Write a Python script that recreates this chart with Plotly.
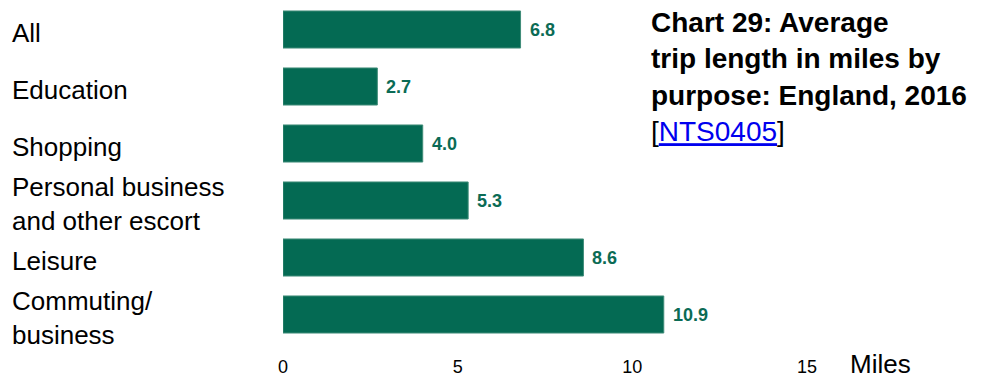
import plotly.graph_objects as go

categories = ["All", "Education", "Shopping", "Personal business<br>and other escort", "Leisure", "Commuting/<br>business"]
values = [6.8, 2.7, 4.0, 5.3, 8.6, 10.9]
value_labels = ["6.8", "2.7", "4.0", "5.3", "8.6", "10.9"]
tick_vals = [0, 5, 10, 15]
tick_text = ["0", "5", "10", "15"]

FONT = "Liberation Sans, Arial, sans-serif"
GREEN = "#046a53"

fig = go.Figure()
fig.add_trace(go.Bar(
    x=values, y=categories, orientation="h",
    marker=dict(color=GREEN, line=dict(color="#3f8c78", width=1)),
    hoverinfo="skip",
))

annotations = []
for c in categories:
    annotations.append(dict(
        x=(10 - 283) / 524, xref="paper", y=c, yref="y", yshift=-3,
        text=c, showarrow=False, xanchor="left", yanchor="middle", align="left",
        font=dict(family=FONT, size=26, color="#000000"),
    ))
for c, v, t in zip(categories, values, value_labels):
    annotations.append(dict(
        x=v, xref="x", y=c, yref="y", text="<b>" + t + "</b>", showarrow=False,
        xanchor="left", yanchor="middle", xshift=7,
        font=dict(family=FONT, size=18, color="#0b6b55"),
    ))
annotations.append(dict(
    x=(848 - 283) / 524, xref="paper", y=(343 - 364) / 342, yref="paper",
    text="Miles", showarrow=False, xanchor="left", yanchor="middle",
    font=dict(family=FONT, size=26, color="#000000"),
))
annotations.append(dict(
    x=(649 - 283) / 524, xref="paper", y=(343 - 5) / 342, yref="paper",
    text="<b>Chart 29: Average<br>trip length in miles by<br>purpose: England, 2016</b><br>"
         "[<span style='color:#0000ee'><u>NTS0405</u></span>]",
    showarrow=False, xanchor="left", yanchor="top", align="left",
    font=dict(family=FONT, size=28, color="#000000"),
))

fig.update_layout(
    width=982, height=376,
    margin=dict(l=283, r=175, t=1, b=33, autoexpand=False),
    paper_bgcolor="white", plot_bgcolor="white",
    bargap=0.35, showlegend=False,
    annotations=annotations,
    xaxis=dict(range=[0, 15], tickvals=tick_vals, ticktext=tick_text,
               showgrid=False, zeroline=False, showline=False, ticks="",
               tickfont=dict(family=FONT, size=18, color="#000000"),
               ticklabelstandoff=11, automargin=False, fixedrange=True),
    yaxis=dict(categoryorder="array", categoryarray=categories,
               range=[len(categories) - 0.5, -0.5], autorange=False,
               showticklabels=False, showgrid=False, zeroline=False, showline=False,
               ticks="", automargin=False, fixedrange=True),
)

fig.write_html(
    "out.html",
    config={"displayModeBar": False},
    post_script="document.body.style.margin='0';document.body.style.overflow='hidden';",
)
